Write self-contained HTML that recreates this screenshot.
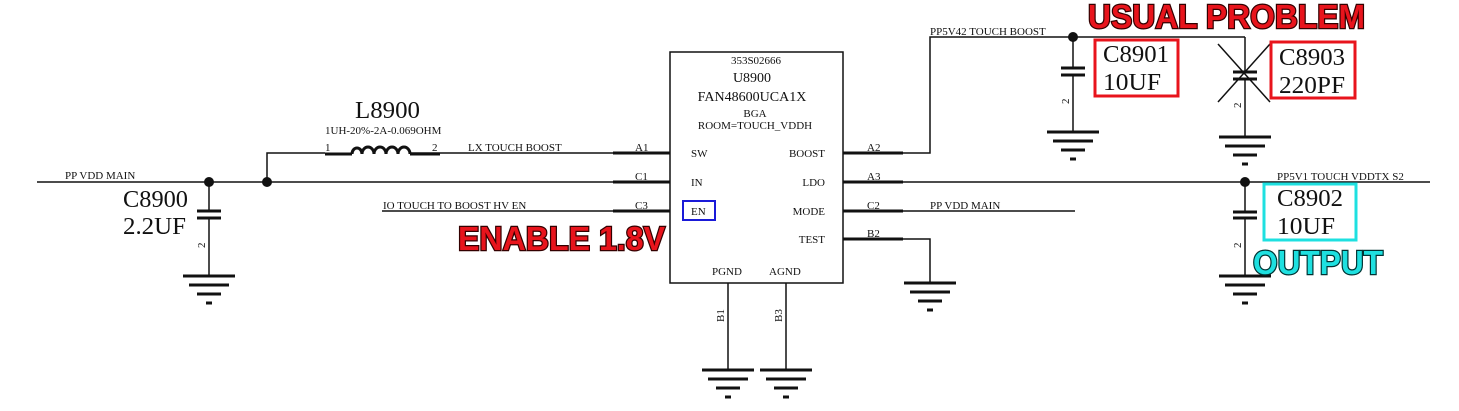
<!DOCTYPE html>
<html><head><meta charset="utf-8"><style>
html,body{margin:0;padding:0;background:#fff;}
svg{display:block;}
text{font-family:"Liberation Serif",serif;fill:#111;}
.s{font-size:11px;}
.m{font-size:14px;}
.b{font-size:24px;}
.call{font-family:"Liberation Sans",sans-serif;font-weight:bold;font-size:33px;stroke:#300;stroke-width:2.5px;paint-order:stroke;}
</style></head><body>
<svg width="1459" height="411" viewBox="0 0 1459 411" xmlns="http://www.w3.org/2000/svg">
<defs>
<g id="gnd" stroke="#111" stroke-width="3">
<line x1="-26" y1="0" x2="26" y2="0"/>
<line x1="-20" y1="9" x2="20" y2="9"/>
<line x1="-12" y1="18" x2="12" y2="18"/>
<line x1="-3" y1="27" x2="3" y2="27"/>
</g>
</defs>
<g stroke="#111" stroke-width="1.5" fill="none">
<rect x="670" y="52" width="173" height="231"/>
<line x1="37" y1="182" x2="670" y2="182"/>
<polyline points="267,182 267,153 325,153"/>
<line x1="410" y1="153" x2="670" y2="153"/>
<line x1="382" y1="211" x2="670" y2="211"/>
<polyline points="843,153 930,153 930,37 1245,37"/>
<line x1="843" y1="182" x2="1430" y2="182"/>
<line x1="843" y1="211" x2="1075" y2="211"/>
<polyline points="843,239 930,239 930,283"/>
<line x1="728" y1="283" x2="728" y2="370"/>
<line x1="786" y1="283" x2="786" y2="370"/>
<line x1="209" y1="182" x2="209" y2="211"/>
<line x1="209" y1="218" x2="209" y2="276"/>
<line x1="1073" y1="37" x2="1073" y2="68"/>
<line x1="1073" y1="75" x2="1073" y2="132"/>
<line x1="1245" y1="37" x2="1245" y2="72"/>
<line x1="1245" y1="79" x2="1245" y2="137"/>
<line x1="1245" y1="182" x2="1245" y2="212"/>
<line x1="1245" y1="218" x2="1245" y2="276"/>
<line x1="1218" y1="44" x2="1270" y2="102"/>
<line x1="1218" y1="102" x2="1270" y2="44"/>
</g>
<g stroke="#111" stroke-width="3">
<line x1="613" y1="153" x2="670" y2="153"/>
<line x1="613" y1="182" x2="670" y2="182"/>
<line x1="613" y1="211" x2="670" y2="211"/>
<line x1="843" y1="153" x2="903" y2="153"/>
<line x1="843" y1="182" x2="903" y2="182"/>
<line x1="843" y1="211" x2="903" y2="211"/>
<line x1="843" y1="239" x2="903" y2="239"/>
<line x1="325" y1="154" x2="352" y2="154"/>
<line x1="410" y1="154" x2="440" y2="154"/>
<line x1="197" y1="211" x2="221" y2="211"/><line x1="197" y1="218" x2="221" y2="218"/>
<line x1="1061" y1="68" x2="1085" y2="68"/><line x1="1061" y1="75" x2="1085" y2="75"/>
<line x1="1233" y1="72" x2="1257" y2="72"/><line x1="1233" y1="79" x2="1257" y2="79"/>
<line x1="1233" y1="212" x2="1257" y2="212"/><line x1="1233" y1="218" x2="1257" y2="218"/>
</g>
<path d="M352,154 a5,6 0 1 1 10,0 a6,7 0 0 1 12,0 a6,7 0 0 1 12,0 a6,7 0 0 1 12,0 a6,7 0 0 1 12,0" stroke="#111" stroke-width="3" fill="none"/>
<g fill="#111">
<circle cx="209" cy="182" r="5"/><circle cx="267" cy="182" r="5"/>
<circle cx="1073" cy="37" r="5"/><circle cx="1245" cy="182" r="5"/>
</g>
<use href="#gnd" x="209" y="276"/>
<use href="#gnd" x="1073" y="132"/>
<use href="#gnd" x="1245" y="137"/>
<use href="#gnd" x="1245" y="276"/>
<use href="#gnd" x="930" y="283"/>
<use href="#gnd" x="728" y="370"/>
<use href="#gnd" x="786" y="370"/>
<text class="s" x="756" y="64" text-anchor="middle">353S02666</text>
<text class="m" x="752" y="82" text-anchor="middle">U8900</text>
<text class="m" x="752" y="101" text-anchor="middle">FAN48600UCA1X</text>
<text class="s" x="755" y="117" text-anchor="middle">BGA</text>
<text class="s" x="755" y="129" text-anchor="middle">ROOM=TOUCH_VDDH</text>
<text class="s" x="691" y="157">SW</text>
<text class="s" x="691" y="186">IN</text>
<text class="s" x="691" y="215">EN</text>
<text class="s" x="825" y="157" text-anchor="end">BOOST</text>
<text class="s" x="825" y="186" text-anchor="end">LDO</text>
<text class="s" x="825" y="215" text-anchor="end">MODE</text>
<text class="s" x="825" y="243" text-anchor="end">TEST</text>
<text class="s" x="712" y="275">PGND</text>
<text class="s" x="769" y="275">AGND</text>
<rect x="683" y="201" width="32" height="19" fill="none" stroke="#1a1ad8" stroke-width="2"/>
<text class="s" x="635" y="151">A1</text>
<text class="s" x="635" y="180">C1</text>
<text class="s" x="635" y="209">C3</text>
<text class="s" x="867" y="151">A2</text>
<text class="s" x="867" y="180">A3</text>
<text class="s" x="867" y="209">C2</text>
<text class="s" x="867" y="237">B2</text>
<text class="s" transform="translate(724,322) rotate(-90)">B1</text>
<text class="s" transform="translate(782,322) rotate(-90)">B3</text>
<text class="s" x="65" y="179">PP VDD MAIN</text>
<text class="s" x="468" y="151">LX TOUCH BOOST</text>
<text class="s" x="383" y="209">IO TOUCH TO BOOST HV EN</text>
<text class="s" x="930" y="35">PP5V42 TOUCH BOOST</text>
<text class="s" x="930" y="209">PP VDD MAIN</text>
<text class="s" x="1277" y="180">PP5V1 TOUCH VDDTX S2</text>
<text class="b" x="355" y="118" textLength="65" lengthAdjust="spacingAndGlyphs">L8900</text>
<text class="s" x="325" y="134">1UH-20%-2A-0.069OHM</text>
<text class="s" x="325" y="151">1</text>
<text class="s" x="432" y="151">2</text>
<text class="b" x="123" y="207" textLength="65" lengthAdjust="spacingAndGlyphs">C8900</text>
<text class="b" x="123" y="234" textLength="63" lengthAdjust="spacingAndGlyphs">2.2UF</text>
<text class="s" transform="translate(205,248) rotate(-90)">2</text>
<text class="s" transform="translate(1069,104) rotate(-90)">2</text>
<text class="s" transform="translate(1241,108) rotate(-90)">2</text>
<text class="s" transform="translate(1241,248) rotate(-90)">2</text>
<text class="b" x="1103" y="62" textLength="66" lengthAdjust="spacingAndGlyphs">C8901</text>
<text class="b" x="1103" y="90" textLength="58" lengthAdjust="spacingAndGlyphs">10UF</text>
<text class="b" x="1279" y="65" textLength="66" lengthAdjust="spacingAndGlyphs">C8903</text>
<text class="b" x="1279" y="93" textLength="66" lengthAdjust="spacingAndGlyphs">220PF</text>
<text class="b" x="1277" y="206" textLength="66" lengthAdjust="spacingAndGlyphs">C8902</text>
<text class="b" x="1277" y="234" textLength="58" lengthAdjust="spacingAndGlyphs">10UF</text>
<rect x="1095" y="40" width="83" height="56" fill="none" stroke="#e8141c" stroke-width="3"/>
<rect x="1271" y="42" width="84" height="56" fill="none" stroke="#e8141c" stroke-width="3"/>
<rect x="1264" y="184" width="92" height="56" fill="none" stroke="#1ee0e0" stroke-width="3"/>
<text class="call" x="1088" y="28" style="fill:#e8141c" textLength="277" lengthAdjust="spacingAndGlyphs">USUAL PROBLEM</text>
<text class="call" x="458" y="250" style="fill:#e8141c" textLength="207" lengthAdjust="spacingAndGlyphs">ENABLE 1.8V</text>
<text class="call" x="1253" y="274" style="fill:#1ee0e0;stroke:#033" textLength="130" lengthAdjust="spacingAndGlyphs">OUTPUT</text>
</svg>
</body></html>
